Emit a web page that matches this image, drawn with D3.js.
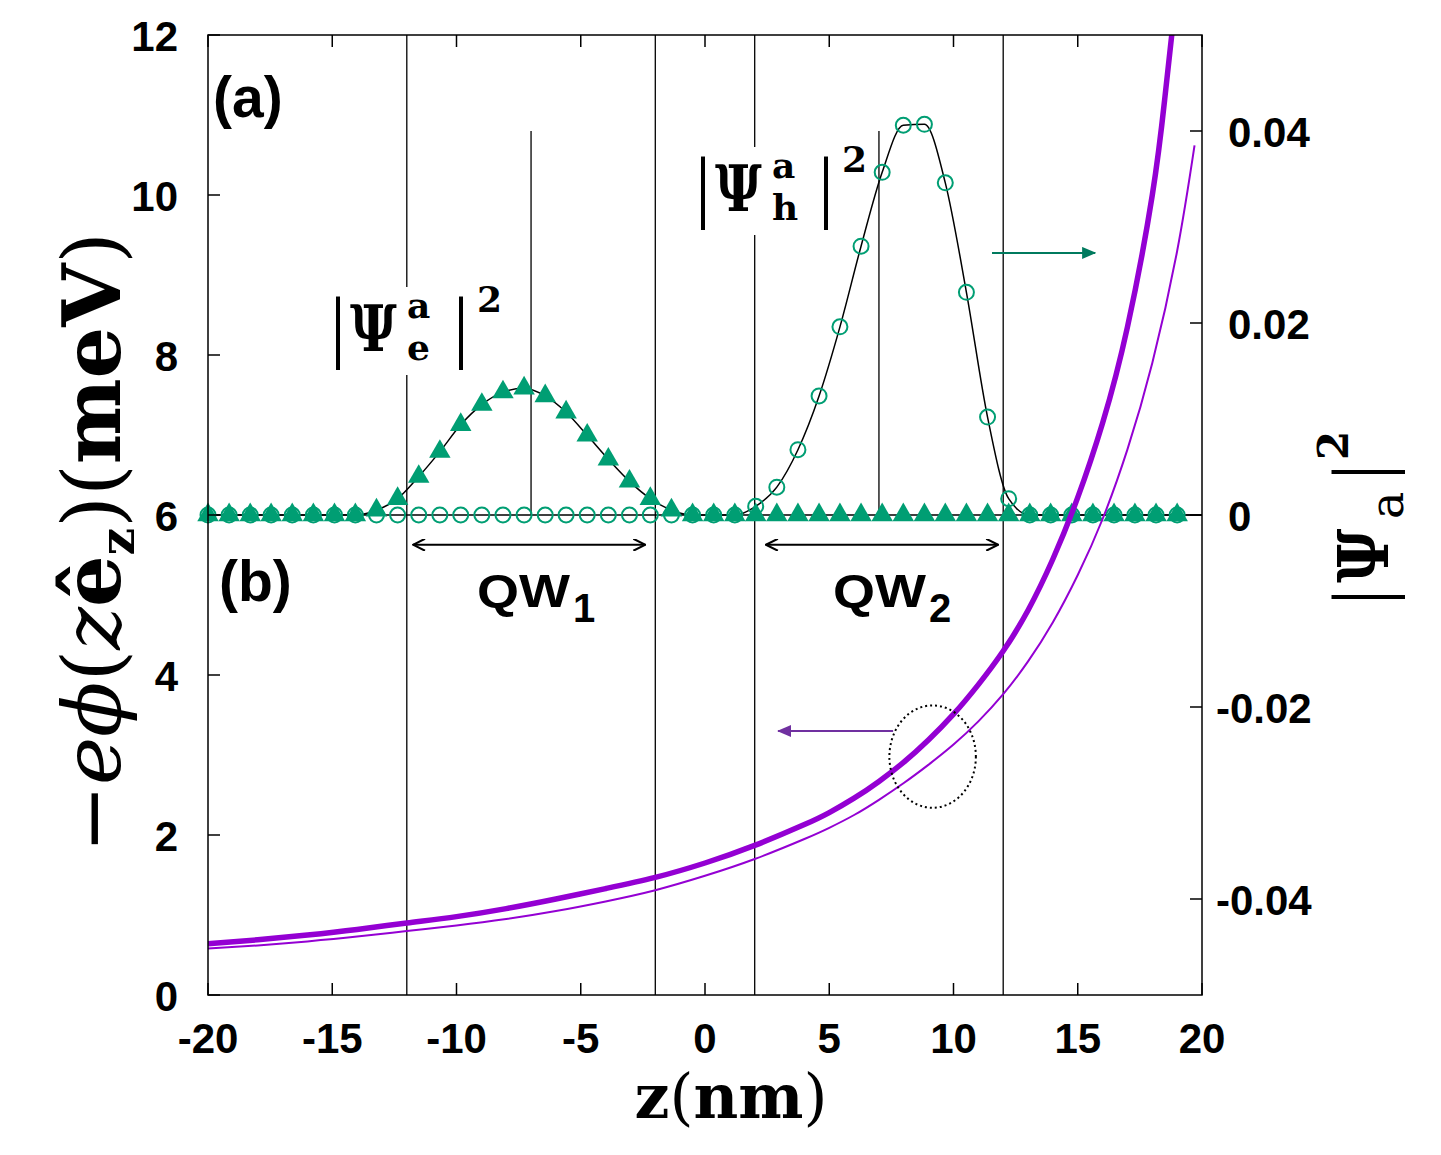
<!DOCTYPE html>
<html lang="en">
<head>
  <meta charset="UTF-8">
  <title>Potential and wavefunctions</title>
  <script src="https://d3js.org/d3.v7.min.js"></script>
  <style>
    body { margin: 0; background: #fff; }
    svg { display: block; }
    .sans { font-family: "Liberation Sans", Arial, sans-serif; font-weight: bold; fill: #000; }
    .serif { font-family: "DejaVu Serif", serif; fill: #000; }
    .bar { font-family: "Liberation Serif", serif; fill: #000; }
  </style>
</head>
<body>
  <svg id="chart" width="1441" height="1155"></svg>
  <script>
    // grid of the wavefunction samples (nm)
    const zGrid = [-20.00, -19.15, -18.30, -17.46, -16.61, -15.76, -14.91, -14.07, -13.22, -12.37,
      -11.52, -10.67, -9.83, -8.98, -8.13, -7.28, -6.43, -5.59, -4.74, -3.89,
      -3.04, -2.20, -1.35, -0.50, 0.35, 1.20, 2.04, 2.89, 3.74, 4.59,
      5.43, 6.28, 7.13, 7.98, 8.83, 9.67, 10.52, 11.37, 12.22, 13.07,
      13.91, 14.76, 15.61, 16.46, 17.30, 18.15, 19.00];

    // |Psi_e|^2 (triangles) and |Psi_h|^2 (open circles), right axis
    const psiE = [0, 0, 0, 0, 0, 0, 0, 0, 0.0005, 0.0017,
      0.0040, 0.0066, 0.0094, 0.0115, 0.0128, 0.0132, 0.0124, 0.0107, 0.0083, 0.0058,
      0.0035, 0.0017, 0.0005, 0, 0, 0, 0, 0, 0, 0,
      0, 0, 0, 0, 0, 0, 0, 0, 0, 0,
      0, 0, 0, 0, 0, 0, 0];
    const psiH = [0, 0, 0, 0, 0, 0, 0, 0, 0, 0,
      0, 0, 0, 0, 0, 0, 0, 0, 0, 0,
      0, 0, 0, 0, 0, 0, 0.0009, 0.0029, 0.0068, 0.0124,
      0.0196, 0.0280, 0.0357, 0.0406, 0.0407, 0.0346, 0.0232, 0.0102, 0.0017, 0,
      0, 0, 0, 0, 0, 0, 0];

    // potential -e phi (meV), left axis
    const thickZ = [-20, -18, -16, -14, -12, -10, -8, -6, -4, -2, 0, 2, 4, 5, 6, 7, 8, 9, 10, 11, 12, 13, 14, 15, 16, 17, 18, 18.5, 18.8];
    const thickV = [0.64, 0.69, 0.75, 0.82, 0.90, 0.98, 1.08, 1.20, 1.33, 1.47, 1.65, 1.87, 2.13, 2.28, 2.46, 2.67, 2.91, 3.19, 3.51, 3.88, 4.30, 4.81, 5.45, 6.22, 7.15, 8.35, 10.00, 11.20, 12.05];
    const thinZ = [-20, -18, -16, -14, -12, -10, -8, -6, -4, -2, 0, 2, 4, 5, 6, 7, 8, 9, 10, 11, 12, 13, 14, 15, 16, 17, 18, 19, 19.7];
    const thinV = [0.58, 0.62, 0.67, 0.73, 0.80, 0.87, 0.95, 1.05, 1.17, 1.31, 1.49, 1.70, 1.95, 2.09, 2.25, 2.44, 2.65, 2.88, 3.13, 3.42, 3.76, 4.17, 4.66, 5.25, 5.95, 6.82, 7.90, 9.30, 10.62];

    // well boundaries and centres
    const wellEdges = [-12, -2, 2, 12];
    const wellCentres = [-7, 7];

    const xTicks = [-20, -15, -10, -5, 0, 5, 10, 15, 20];
    const yLeftTicks = [0, 2, 4, 6, 8, 10, 12];
    const yRightTicks = [-0.04, -0.02, 0, 0.02, 0.04];

    const green = "#009e73", purple = "#9400d3";
    const pL = 208, pR = 1202, pT = 35, pB = 995;

    const svg = d3.select("#chart");
    const x = d3.scaleLinear().domain([-20, 20]).range([pL, pR]);
    const yL = d3.scaleLinear().domain([0, 12]).range([pB, pT]);
    const yR = d3.scaleLinear().domain([-0.05, 0.05]).range([pB, pT]);

    const defs = svg.append("defs");
    defs.append("clipPath").attr("id", "clip")
      .append("rect").attr("x", pL).attr("y", pT).attr("width", pR - pL).attr("height", pB - pT);

    // well lines
    svg.selectAll(".edge").data(wellEdges).enter().append("line")
      .attr("x1", d => x(d)).attr("x2", d => x(d))
      .attr("y1", pT).attr("y2", pB)
      .attr("stroke", "#000").attr("stroke-width", 1.3);
    svg.selectAll(".centre").data(wellCentres).enter().append("line")
      .attr("x1", d => x(d)).attr("x2", d => x(d))
      .attr("y1", yR(0)).attr("y2", yR(0.04))
      .attr("stroke", "#000").attr("stroke-width", 1.3);

    // boxed math labels |Psi|^2
    function psiLabel(x0, barTop, sup, sub) {
      const g = svg.append("g");
      g.append("rect").attr("x", x0 - 6).attr("y", barTop - 6).attr("width", 170).attr("height", 88).attr("fill", "#fff");
      const base = barTop + 60;
      g.append("text").attr("class", "bar").attr("x", x0).attr("y", base).attr("font-size", 80).attr("text-anchor", "middle").text("|");
      g.append("text").attr("class", "serif").attr("transform", `translate(${x0 + 12},${barTop + 58}) scale(0.8,1)`)
        .attr("font-size", 64).attr("font-weight", "bold").text("Ψ");
      g.append("text").attr("class", "serif").attr("x", x0 + 69).attr("y", barTop + 25).attr("font-size", 36).attr("font-weight", "bold").text(sup);
      g.append("text").attr("class", "serif").attr("x", x0 + 69).attr("y", barTop + 67).attr("font-size", 36).attr("font-weight", "bold").text(sub);
      g.append("text").attr("class", "bar").attr("x", x0 + 123).attr("y", base).attr("font-size", 80).attr("text-anchor", "middle").text("|");
      g.append("text").attr("class", "serif").attr("x", x0 + 139).attr("y", barTop + 19).attr("font-size", 36).attr("font-weight", "bold").text("2");
    }
    psiLabel(338, 293, "a", "e");
    psiLabel(703, 153, "a", "h");

    // black smooth curves through the wavefunction samples
    const curve = d3.line().x(d => x(d[0])).y(d => yR(d[1])).curve(d3.curveMonotoneX);
    const eLine = zGrid.map((z, i) => [z, psiE[i]]).concat([[20, 0]]);
    const hLine = zGrid.map((z, i) => [z, psiH[i]]).concat([[20, 0]]);
    svg.append("path").attr("d", curve(eLine)).attr("fill", "none").attr("stroke", "#000").attr("stroke-width", 1.5);
    svg.append("path").attr("d", curve(hLine)).attr("fill", "none").attr("stroke", "#000").attr("stroke-width", 1.5);

    // markers
    svg.selectAll(".hpt").data(zGrid).enter().append("circle")
      .attr("cx", d => x(d)).attr("cy", (d, i) => yR(psiH[i])).attr("r", 7.5)
      .attr("fill", "none").attr("stroke", green).attr("stroke-width", 2);
    const tri = d3.symbol().type(d3.symbolTriangle).size(200);
    svg.selectAll(".ept").data(zGrid).enter().append("path")
      .attr("d", tri)
      .attr("transform", (d, i) => `translate(${x(d)},${yR(psiE[i])})`)
      .attr("fill", green);

    // potential curves
    const pot = d3.line().x(d => x(d[0])).y(d => yL(d[1])).curve(d3.curveNatural);
    const pg = svg.append("g").attr("clip-path", "url(#clip)");
    pg.append("path").attr("d", pot(thinZ.map((z, i) => [z, thinV[i]])))
      .attr("fill", "none").attr("stroke", purple).attr("stroke-width", 2);
    pg.append("path").attr("d", pot(thickZ.map((z, i) => [z, thickV[i]])))
      .attr("fill", "none").attr("stroke", purple).attr("stroke-width", 5.5);

    // arrows
    function head(id, color, open) {
      const m = defs.append("marker").attr("id", id).attr("viewBox", "0 -6 14 12")
        .attr("refX", 13).attr("refY", 0).attr("markerWidth", 14).attr("markerHeight", 12)
        .attr("markerUnits", "userSpaceOnUse").attr("orient", "auto-start-reverse");
      if (open) m.append("path").attr("d", "M1,-6L13,0L1,6").attr("fill", "none").attr("stroke", color).attr("stroke-width", 2);
      else m.append("path").attr("d", "M0,-6L14,0L0,6Z").attr("fill", color);
    }
    head("openHead", "#000", true);
    head("greenHead", "#007a5e", false);
    head("purpleHead", "#7030a0", false);

    const qwArrows = [[-11.75, -2.4], [2.45, 11.8]];
    svg.selectAll(".qw").data(qwArrows).enter().append("line")
      .attr("x1", d => x(d[0])).attr("x2", d => x(d[1]))
      .attr("y1", yR(-0.0031)).attr("y2", yR(-0.0031))
      .attr("stroke", "#000").attr("stroke-width", 2)
      .attr("marker-start", "url(#openHead)").attr("marker-end", "url(#openHead)");
    svg.append("line").attr("x1", x(11.55)).attr("x2", x(15.7)).attr("y1", yR(0.0273)).attr("y2", yR(0.0273))
      .attr("stroke", "#007a5e").attr("stroke-width", 2).attr("marker-end", "url(#greenHead)");
    svg.append("line").attr("x1", x(7.57)).attr("x2", x(2.94)).attr("y1", yL(3.3)).attr("y2", yL(3.3))
      .attr("stroke", "#7030a0").attr("stroke-width", 2).attr("marker-end", "url(#purpleHead)");
    svg.append("ellipse").attr("cx", x(9.16)).attr("cy", yL(2.98))
      .attr("rx", x(1.74) - x(0)).attr("ry", yL(0) - yL(0.64))
      .attr("fill", "none").attr("stroke", "#000").attr("stroke-width", 2).attr("stroke-dasharray", "2,3");

    // frame and ticks
    svg.append("rect").attr("x", pL).attr("y", pT).attr("width", pR - pL).attr("height", pB - pT)
      .attr("fill", "none").attr("stroke", "#000").attr("stroke-width", 1.5);
    const tl = 12;
    xTicks.forEach(t => {
      svg.append("line").attr("x1", x(t)).attr("x2", x(t)).attr("y1", pB).attr("y2", pB - tl).attr("stroke", "#000").attr("stroke-width", 1.5);
      svg.append("line").attr("x1", x(t)).attr("x2", x(t)).attr("y1", pT).attr("y2", pT + tl).attr("stroke", "#000").attr("stroke-width", 1.5);
      svg.append("text").attr("class", "sans").attr("font-size", 42).attr("x", x(t)).attr("y", 1053).attr("text-anchor", "middle").text(t);
    });
    yLeftTicks.forEach(t => {
      svg.append("line").attr("x1", pL).attr("x2", pL + tl).attr("y1", yL(t)).attr("y2", yL(t)).attr("stroke", "#000").attr("stroke-width", 1.5);
      svg.append("text").attr("class", "sans").attr("font-size", 42).attr("x", 178).attr("y", yL(t) + 16).attr("text-anchor", "end").text(t);
    });
    yRightTicks.forEach(t => {
      svg.append("line").attr("x1", pR).attr("x2", pR - tl).attr("y1", yR(t)).attr("y2", yR(t)).attr("stroke", "#000").attr("stroke-width", 1.5);
      svg.append("text").attr("class", "sans").attr("font-size", 42).attr("x", t < 0 ? 1216 : 1228).attr("y", yR(t) + 16)
        .text(t === 0 ? "0" : d3.format(".2f")(t).replace("−", "-"));
    });

    // panel letters and well names
    svg.append("text").attr("class", "sans").attr("font-size", 57).attr("x", 213).attr("y", 117).text("(a)");
    svg.append("text").attr("class", "sans").attr("font-size", 57).attr("x", 219).attr("y", 601).text("(b)");
    [["QW", "1", 477], ["QW", "2", 833]].forEach(([a, b, px]) => {
      svg.append("text").attr("class", "sans").attr("font-size", 46).attr("x", px).attr("y", 607)
        .attr("textLength", 93).attr("lengthAdjust", "spacingAndGlyphs").text(a);
      svg.append("text").attr("class", "sans").attr("font-size", 40).attr("x", px + 96).attr("y", 622).text(b);
    });

    // fit a text element to a wanted length by adjusting its font size
    function fit(sel, want) {
      const fs = +sel.attr("font-size");
      const w = sel.node().getComputedTextLength();
      sel.attr("font-size", fs * want / w);
    }

    // x axis title
    const xt = svg.append("text").attr("class", "serif").attr("x", 731).attr("y", 1118).attr("text-anchor", "middle").attr("font-size", 66);
    xt.append("tspan").attr("font-weight", "bold").text("z");
    xt.append("tspan").text("(");
    xt.append("tspan").attr("font-weight", "bold").text("nm");
    xt.append("tspan").text(")");
    fit(xt, 193);

    // left y title
    const yt = svg.append("text").attr("class", "serif").attr("transform", "translate(120,853) rotate(-90)").attr("font-size", 72);
    yt.append("tspan").text("−");
    yt.append("tspan").attr("font-style", "italic").text("eϕ");
    yt.append("tspan").text("(");
    yt.append("tspan").attr("font-style", "italic").text("z");
    yt.append("tspan").attr("font-weight", "bold").text("ê");
    yt.append("tspan").attr("font-weight", "bold").attr("font-size", "0.6em").attr("dy", 14).text("z");
    yt.append("tspan").attr("dy", -14).text(")(");
    yt.append("tspan").attr("font-weight", "bold").text("meV");
    yt.append("tspan").text(")");
    fit(yt, 621);

    // right y title
    const rg = svg.append("g").attr("transform", "translate(1388,597) rotate(-90)");
    rg.append("text").attr("class", "bar").attr("x", 0).attr("y", 0).attr("font-size", 80).attr("text-anchor", "middle").text("|");
    rg.append("text").attr("class", "serif").attr("transform", "translate(14,0) scale(0.85,1)").attr("font-size", 70)
      .attr("font-weight", "bold").text("Ψ");
    rg.append("text").attr("class", "serif").attr("x", 78).attr("y", 15).attr("font-size", 46).text("a");
    rg.append("text").attr("class", "bar").attr("x", 125).attr("y", 0).attr("font-size", 80).attr("text-anchor", "middle").text("|");
    rg.append("text").attr("class", "serif").attr("x", 137).attr("y", -40).attr("font-size", 42).attr("font-weight", "bold").text("2");
  </script>
</body>
</html>
